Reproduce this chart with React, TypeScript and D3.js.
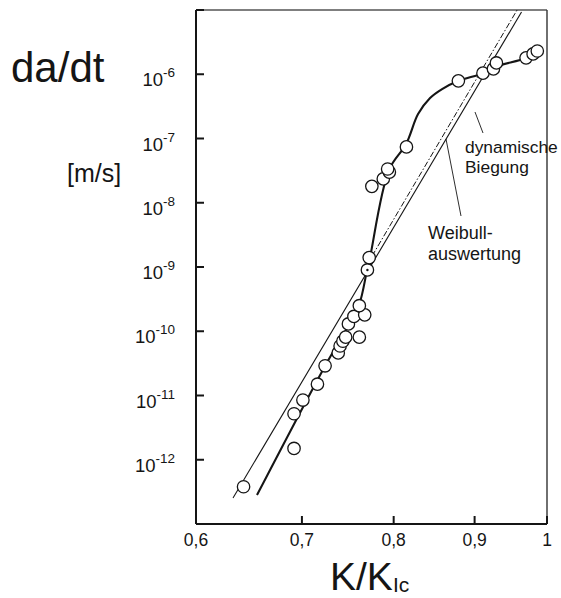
import React from "react";
import * as d3 from "d3";

const W = 561;
const H = 598;

// Axis ticks
const xTicks = [0.6, 0.7, 0.8, 0.9, 1.0];
const xTickLabels = ["0,6", "0,7", "0,8", "0,9", "1"];
const yTickExponents = [-13, -12, -11, -10, -9, -8, -7, -6, -5];
const yLabelExponents = [-6, -7, -8, -9, -10, -11, -12];

// Measured crack velocities: K/K_Ic and da/dt [m/s]
const pointK = [
  0.643, 0.692, 0.692, 0.701, 0.716, 0.724, 0.738, 0.74, 0.743, 0.746,
  0.761, 0.749, 0.755, 0.767, 0.761, 0.77, 0.772, 0.775, 0.788, 0.795,
  0.793, 0.815, 0.879, 0.911, 0.925, 0.929, 0.97, 0.98, 0.986,
];
const pointV = [
  3.8e-13, 1.5e-12, 5.2e-12, 8.5e-12, 1.5e-11, 2.9e-11, 4.6e-11, 5.9e-11, 7.0e-11, 8.1e-11,
  8.1e-11, 1.3e-10, 1.7e-10, 1.8e-10, 2.5e-10, 9.0e-10, 1.4e-9, 1.8e-8, 2.35e-8, 3.0e-8,
  3.35e-8, 7.4e-8, 7.9e-7, 1.04e-6, 1.21e-6, 1.5e-6, 1.8e-6, 2.07e-6, 2.3e-6,
];
// index of the marked point (circle with centre dot)
const markedIndex = 15;

// v-K curve drawn through the measurements
const curveK = [
  0.6557, 0.724, 0.7475, 0.7607, 0.7696, 0.773, 0.7946, 0.8146, 0.8289, 0.8435,
  0.8584, 0.8786, 0.9112, 0.9272, 0.97, 0.9857,
];
const curveV = [
  2.82e-13, 2.88e-11, 1.12e-10, 2.56e-10, 8.97e-10, 1.43e-9, 3.24e-8, 8.2e-8, 2.4e-7, 4.27e-7,
  5.89e-7, 7.85e-7, 1.04e-6, 1.3e-6, 1.79e-6, 2.22e-6,
];

// Weibull evaluation (straight power law)
const weibullK = [0.6332, 0.9636];
const weibullV = [2.54e-13, 9.3e-6];

// dynamic bending (dash-dot power law)
const dynK = [0.7752, 0.9574];
const dynV = [1.48e-9, 1.0e-5];

const FONT = "'Liberation Sans', Arial, Helvetica, sans-serif";
const INK = "#151515";

export default function App() {
  const x = d3.scaleLog().domain([0.6, 1.0]).range([196, 547]);
  const y = d3.scaleLog().domain([1e-13, 1e-5]).range([524, 10]);

  const curveLine = d3
    .line<number>()
    .x((_, i) => x(curveK[i]))
    .y((_, i) => y(curveV[i]))
    .curve(d3.curveCatmullRom.alpha(0.5));

  const straight = (ks: number[], vs: number[]) =>
    d3
      .line<number>()
      .x((_, i) => x(ks[i]))
      .y((_, i) => y(vs[i]))(ks) as string;

  const [x0, x1] = x.range();
  const [y0, y1] = y.range();

  return (
    <>
      <style>{`body{margin:0}`}</style>
      <svg width={W} height={H} style={{ display: "block", background: "#fff" }} fontFamily={FONT}>
        {/* frame */}
        <line x1={x0} y1={y1} x2={x1} y2={y1} stroke="#555" strokeWidth={1.4} />
        <line x1={x1} y1={y1} x2={x1} y2={y0} stroke="#333" strokeWidth={1.4} />
        <line x1={x0} y1={y0} x2={x1} y2={y0} stroke={INK} strokeWidth={1.8} />
        <line x1={x0} y1={y1} x2={x0} y2={y0} stroke={INK} strokeWidth={2} />

        {/* y ticks */}
        {yTickExponents.map((e) => (
          <line key={e} x1={x0} x2={x0 + 8} y1={y(10 ** e)} y2={y(10 ** e)} stroke={INK} strokeWidth={2} />
        ))}
        {/* x ticks */}
        {xTicks.map((k) => (
          <line key={k} x1={x(k)} x2={x(k)} y1={y0} y2={y0 - 8} stroke={INK} strokeWidth={2} />
        ))}

        {/* y tick labels */}
        {yLabelExponents.map((e) => (
          <text key={e} x={175} y={y(10 ** e) + 12} textAnchor="end" fill={INK} fontSize={18.5}>
            10
            <tspan fontSize={13.5} dy={-9}>
              {String(e)}
            </tspan>
          </text>
        ))}

        {/* x tick labels */}
        {xTicks.map((k, i) => (
          <text key={k} x={x(k)} y={546} textAnchor="middle" fill={INK} fontSize={17.5}>
            {xTickLabels[i]}
          </text>
        ))}

        {/* axis titles */}
        <text x={11} y={82} fontSize={42} fill={INK}>
          da/dt
        </text>
        <text x={67} y={182} fontSize={25} fill={INK}>
          [m/s]
        </text>
        <text x={330} y={590} fontSize={39} fill={INK}>
          K/K
          <tspan fontSize={21} dy={2}>
            Ic
          </tspan>
        </text>

        {/* power-law lines */}
        <path d={straight(weibullK, weibullV)} fill="none" stroke={INK} strokeWidth={1.1} />
        <path
          d={straight(dynK, dynV)}
          fill="none"
          stroke={INK}
          strokeWidth={1}
          strokeDasharray="6 2 1.5 2"
        />

        {/* v-K curve */}
        <path d={curveLine(curveK) as string} fill="none" stroke={INK} strokeWidth={2.1} />

        {/* measurements */}
        {pointK.map((k, i) => (
          <circle key={i} cx={x(k)} cy={y(pointV[i])} r={6.2} fill="#fff" stroke={INK} strokeWidth={1.3} />
        ))}
        <circle cx={x(pointK[markedIndex])} cy={y(pointV[markedIndex])} r={1.2} fill={INK} />

        {/* annotations */}
        <line x1={475} y1={112} x2={483} y2={133} stroke={INK} strokeWidth={0.9} />
        <line x1={446} y1={139} x2={461} y2={216} stroke={INK} strokeWidth={0.9} />
        <text x={465} y={153} fontSize={17.4} fill={INK}>
          dynamische
        </text>
        <text x={465} y={173} fontSize={17.4} fill={INK}>
          Biegung
        </text>
        <text x={428} y={239} fontSize={18} fill={INK}>
          Weibull-
        </text>
        <text x={428} y={260} fontSize={18} fill={INK}>
          auswertung
        </text>
      </svg>
    </>
  );
}
